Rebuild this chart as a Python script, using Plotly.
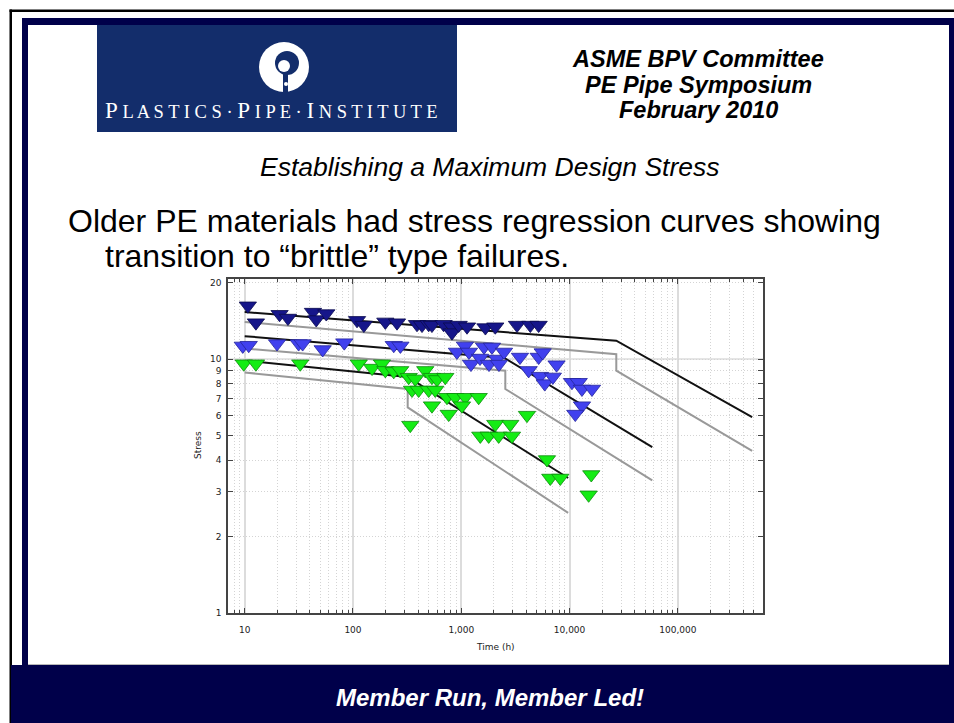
import plotly.graph_objects as go

W, H = 954, 723

# ---------------- data ----------------
navy_time = [10.7, 12.7, 21.0, 25.1, 42.7, 45.8, 56.7, 109, 126, 199, 255, 390, 434, 500,
             536, 687, 820, 820, 946, 1130, 1670, 2060, 3270, 4340, 5180]
navy_stress = [16.2, 13.9, 15.0, 14.5, 15.3, 14.3, 15.1, 14.2, 13.6, 14.0, 13.9, 13.7, 13.6, 13.7,
               13.6, 13.7, 13.4, 12.7, 13.6, 13.4, 13.3, 13.4, 13.6, 13.6, 13.6]

blue_time = [9.6, 10.9, 19.9, 31.5, 34.3, 52.5, 83.1, 238, 274, 912, 1081, 1178, 1229, 1489,
             1622, 1803, 1920, 2136, 2228, 2479, 3483, 4190, 5183, 5645, 5335, 5900, 7010,
             7580, 10520, 12140, 13010, 16100, 13010, 11290]
blue_stress = [11.26, 11.33, 11.5, 11.5, 11.5, 10.9, 11.6, 11.33, 11.26, 10.66, 11.26, 10.66, 9.55, 10.09,
               11.16, 9.55, 11.16, 10.0, 9.55, 10.66, 10.18, 9.02, 10.18, 10.6, 8.56, 8.0, 8.5,
               9.5, 8.1, 8.1, 7.62, 7.62, 6.55, 6.07]

green_time = [9.8, 12.7, 32.6, 113, 150, 185, 199, 238, 273, 327, 376, 465, 536, 597, 712,
              351, 404, 500, 575, 738, 880, 1089, 1015, 1448, 536, 765, 338, 4043, 2061, 2834,
              1498, 1791, 2215, 2938, 6185, 6633, 8204, 15860, 15000]
green_stress = [9.58, 9.58, 9.58, 9.58, 9.21, 9.58, 9.02, 8.94, 9.02, 8.48, 8.35, 9.02, 8.48, 8.31, 8.48,
                7.55, 7.55, 7.55, 7.55, 7.07, 7.07, 7.07, 6.55, 7.07, 6.55, 6.07, 5.49, 6.01, 5.54, 5.54,
                4.98, 4.98, 4.98, 4.98, 4.02, 3.40, 3.40, 3.51, 2.92]

# regression (mean) lines and lower confidence lines
navy_mean_t = [10, 27000, 485000]
navy_mean_s = [15.3, 11.8, 5.9]
navy_lcl_t = [10, 27000, 27000, 485000]
navy_lcl_s = [14.0, 10.45, 9.0, 4.35]

blue_mean_t = [10, 2500, 58000]
blue_mean_s = [12.3, 10.1, 4.5]
blue_lcl_t = [10, 2550, 2550, 58000]
blue_lcl_s = [11.0, 9.0, 7.62, 3.33]

green_mean_t = [10, 320, 9700]
green_mean_s = [9.85, 8.5, 3.4]
green_lcl_t = [10, 320, 320, 9700]
green_lcl_s = [8.85, 7.62, 6.45, 2.48]

x_tickvals = [10, 100, 1000, 10000, 100000]
x_ticktext = ["10", "100", "1,000", "10,000", "100,000"]
y_tickvals = [1, 2, 3, 4, 5, 6, 7, 8, 9, 10, 20]
y_ticktext = ["1", "2", "3", "4", "5", "6", "7", "8", "9", "10", "20"]

header_lines = ["ASME BPV Committee", "PE Pipe Symposium", "February 2010"]
subtitle = "Establishing a Maximum Design Stress"
title_line1 = "Older PE materials had stress regression curves showing"
title_line2 = "transition to \u201cbrittle\u201d type failures."
footer = "Member Run, Member Led!"

# ---------------- helpers ----------------
def px(x):
    return x / W


def py(y):
    return 1 - y / H


shapes = []


def rect(x0, y0, x1, y1, color):
    shapes.append(dict(type="rect", xref="paper", yref="paper", x0=px(x0), x1=px(x1),
                       y0=py(y1), y1=py(y0), fillcolor=color, line=dict(width=0), layer="above"))


def circle(cx, cy, r, color):
    shapes.append(dict(type="circle", xref="paper", yref="paper", x0=px(cx - r), x1=px(cx + r),
                       y0=py(cy + r), y1=py(cy - r), fillcolor=color, line=dict(width=0), layer="above"))


NAVY = "#00004a"
LOGO = "#132d6b"

# slide frame
rect(9.5, 9.5, 954, 12, "#000000")
rect(9.5, 9.5, 12, 723, "#000000")
rect(22, 18, 954, 25, NAVY)
rect(22, 18, 28, 665, NAVY)
rect(949, 18, 954, 665, NAVY)
rect(11, 665, 954, 723, NAVY)
shapes.append(dict(type="line", xref="paper", yref="paper", x0=px(28), x1=px(949), y0=py(664.5), y1=py(664.5),
                   line=dict(color="#b8b8b8", width=1)))

# logo
rect(97, 25, 457, 132, LOGO)
circle(284, 67, 25, "#ffffff")
circle(287, 63, 12, LOGO)
circle(284, 66, 6, "#ffffff")
rect(283, 74, 288, 93, LOGO)
circle(286, 84, 2, "#ffffff")

# y=10 solid grid line
shapes.append(dict(type="line", xref="x domain", yref="y", x0=0, x1=1, y0=10, y1=10,
                   line=dict(color="#dcdcdc", width=1.5), layer="below"))

# ---------------- traces ----------------
fig = go.Figure()

for t, s, c in [(navy_mean_t, navy_mean_s, "#111111"), (navy_lcl_t, navy_lcl_s, "#999999"),
                (blue_mean_t, blue_mean_s, "#111111"), (blue_lcl_t, blue_lcl_s, "#999999"),
                (green_mean_t, green_mean_s, "#111111"), (green_lcl_t, green_lcl_s, "#999999")]:
    fig.add_trace(go.Scatter(x=t, y=s, mode="lines", line=dict(color=c, width=2),
                             hoverinfo="skip", showlegend=False))

for t, s, fill, edge in [(navy_time, navy_stress, "#16168a", "#0a0a4e"),
                         (blue_time, blue_stress, "#4141ee", "#25259c"),
                         (green_time, green_stress, "#14ec14", "#0b8a0b")]:
    fig.add_trace(go.Scatter(x=t, y=s, mode="markers",
                             marker=dict(symbol="triangle-down", size=15, color=fill,
                                         line=dict(color=edge, width=0.8)),
                             showlegend=False))

# ---------------- annotations ----------------
ann = []


def text(x, y, s, size, color="#000000", xanchor="center", family="Liberation Sans", angle=0):
    ann.append(dict(x=px(x), y=py(y), xref="paper", yref="paper", text=s, showarrow=False,
                    xanchor=xanchor, yanchor="middle", textangle=angle,
                    font=dict(size=size, color=color, family=family)))


for i, line in enumerate(header_lines):
    text(698, 59 + i * 25.5, "<b><i>" + line + "</i></b>", 23.5)
text(490, 167, "<i>" + subtitle + "</i>", 26.5)
text(66, 221, title_line1, 32, xanchor="left")
text(103, 256, title_line2, 32, xanchor="left")
text(490, 697, "<b><i>" + footer + "</i></b>", 24, color="#ffffff")


# logo text with small caps and spacing
def big(c):
    return '<span style="font-size:23px">' + c + '</span>'


logo_text = (big("P") + " L A S T I C S \u00b7 " + big("P") + " I P E \u00b7 " + big("I") +
             " N S T I T U T E")
text(271, 110, logo_text, 18.5, color="#ffffff", family="Liberation Serif")

# axis titles
text(198, 445, "Stress", 9, color="#222222", family="DejaVu Sans", angle=-90)
text(495, 647, "Time (h)", 9, color="#222222", family="DejaVu Sans")

# ---------------- layout ----------------
fig.update_layout(
    width=W, height=H,
    margin=dict(l=0, r=0, t=0, b=0, autoexpand=False),
    paper_bgcolor="#ffffff", plot_bgcolor="#ffffff",
    font=dict(family="Liberation Sans"),
    shapes=shapes, annotations=ann,
    showlegend=False,
    xaxis=dict(type="log", domain=[px(228), px(763)], range=[0.846, 5.786],
               tickvals=x_tickvals, ticktext=x_ticktext,
               ticks="inside", ticklen=5, tickcolor="#444444",
               showline=True, linecolor="#444444", linewidth=1.5, mirror="ticks",
               showgrid=True, gridcolor="#dcdcdc", gridwidth=1.5,
               tickfont=dict(family="DejaVu Sans", size=9, color="#222222"),
               ticklabelstandoff=7, zeroline=False,
               minor=dict(dtick="D1", ticks="inside", ticklen=3, tickcolor="#444444",
                          showgrid=True, gridcolor="#d4d4d4", griddash="1px,2px", gridwidth=1)),
    yaxis=dict(type="log", domain=[py(613), py(279)], range=[0, 1.315],
               tickvals=y_tickvals, ticktext=y_ticktext,
               ticks="inside", ticklen=5, tickcolor="#444444",
               showline=True, linecolor="#444444", linewidth=1.5, mirror="ticks",
               showgrid=True, gridcolor="#d4d4d4", griddash="1px,2px", gridwidth=1,
               tickfont=dict(family="DejaVu Sans", size=9, color="#222222"),
               ticklabelstandoff=3, zeroline=False),
)

fig.write_html("out.html", config={"displayModeBar": False},
               post_script="document.body.style.margin='0';document.body.style.overflow='hidden';")
